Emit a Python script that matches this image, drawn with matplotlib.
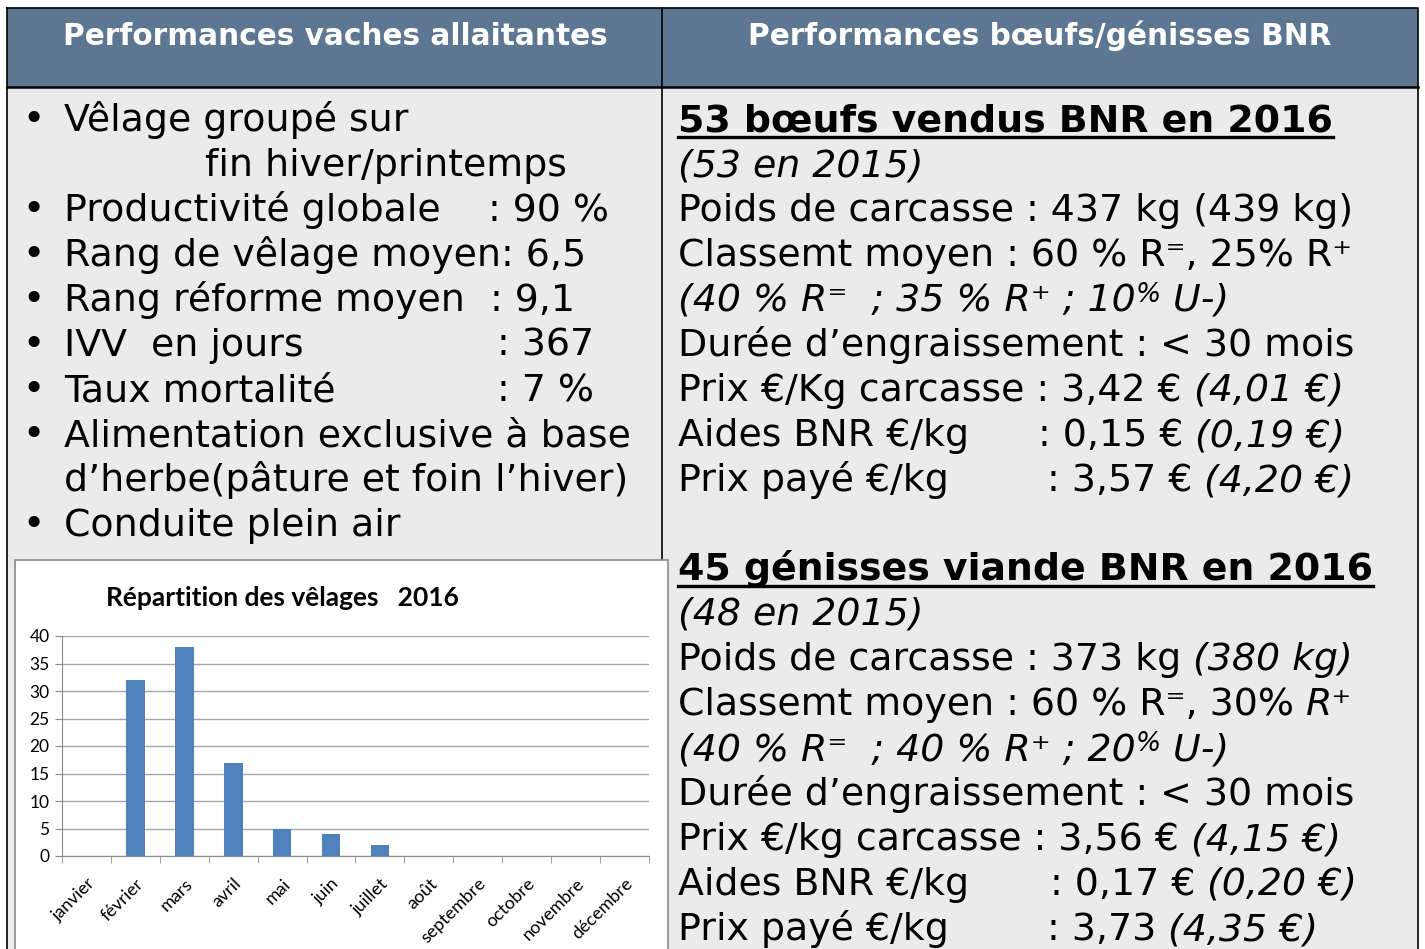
import numpy as np
import matplotlib.pyplot as plt
from matplotlib.patches import Rectangle

# données du graphique
mois = ['janvier', 'février', 'mars', 'avril', 'mai', 'juin', 'juillet',
        'août', 'septembre', 'octobre', 'novembre', 'décembre']
velages = [0, 32, 38, 17, 5, 4, 2, 0, 0, 0, 0, 0]
yticks = [0, 5, 10, 15, 20, 25, 30, 35, 40]

titre_gauche = 'Performances vaches allaitantes'
titre_droite = 'Performances bœufs/génisses BNR'

W, H = 1425, 949
BODY = 27.3
HEAD_BLUE = '#5d7692'
GREY_BG = '#ebebeb'

fig = plt.figure(figsize=(W / 100, H / 100), dpi=100)
ax = fig.add_axes([0, 0, 1, 1])
ax.set_xlim(0, W)
ax.set_ylim(H, 0)
ax.axis('off')
renderer = fig.canvas.get_renderer()

# cadres du tableau
ax.add_patch(Rectangle((7, 8), 1411, 79, facecolor=HEAD_BLUE, edgecolor='none'))
ax.add_patch(Rectangle((7, 87), 1411, 900, facecolor=GREY_BG, edgecolor='none'))
ax.plot([7, 1418, 1418, 7, 7], [8, 8, 960, 960, 8], color='black', lw=1.2)
ax.plot([7, 1418], [87, 87], color='black', lw=1.8)
ax.plot([662, 662], [8, 960], color='black', lw=1.2)

ax.text(335, 36, titre_gauche, color='white', fontsize=21.3, fontweight='bold',
        ha='center', va='center')
ax.text(1040, 36, titre_droite, color='white', fontsize=21.3, fontweight='bold',
        ha='center', va='center')


def runs(x, y, parts, size=BODY):
    # parts: (texte, style, décalage vertical, facteur de taille)
    for p in parts:
        txt, style = p[0], p[1]
        dy = p[2] if len(p) > 2 else 0
        f = p[3] if len(p) > 3 else 1.0
        t = ax.text(x, y + 13 + dy, txt, fontsize=size * f, ha='left',
                    va='baseline', fontstyle=style)
        x += t.get_window_extent(renderer).width
    return x


def titre(x, y, txt):
    t = ax.text(x, y + 13, txt, fontsize=BODY, fontweight='bold', ha='left',
                va='baseline')
    w = t.get_window_extent(renderer).width
    ax.plot([x, x + w], [y + 19, y + 19], color='black', lw=2.4)


N, I = 'normal', 'italic'

# colonne gauche
puces = [118, 208, 253, 298, 343, 388, 433, 523]
for y in puces:
    ax.text(22, y + 13, '•', fontsize=BODY, ha='left', va='baseline')
runs(64, 118, [('Vêlage groupé sur', N)])
runs(205, 163, [('fin hiver/printemps', N)])
runs(64, 208, [('Productivité globale', N)])
runs(488, 208, [(': 90 %', N)])
runs(64, 253, [('Rang de vêlage moyen: 6,5', N)])
runs(64, 298, [('Rang réforme moyen', N)])
runs(490, 298, [(': 9,1', N)])
runs(64, 343, [('IVV  en jours', N)])
runs(497, 343, [(': 367', N)])
runs(64, 388, [('Taux mortalité', N)])
runs(497, 388, [(': 7 %', N)])
runs(64, 433, [('Alimentation exclusive à base', N)])
runs(64, 478, [('d’herbe(pâture et foin l’hiver)', N)])
runs(64, 523, [('Conduite plein air', N)])

# colonne droite
X = 678
titre(X, 118, '53 bœufs vendus BNR en 2016')
runs(X, 163, [('(53 en 2015)', I)])
runs(X, 208, [('Poids de carcasse : 437 kg (439 kg)', N)])
runs(X, 253, [('Classemt moyen : 60 % R⁼, 25% R⁺', N)])
runs(X, 298, [('(40 % R⁼  ; 35 % R⁺ ; 10', I), ('%', I, -9, 0.7), (' U-)', I)])
runs(X, 343, [('Durée d’engraissement : < 30 mois', N)])
runs(X, 388, [('Prix €/Kg carcasse : 3,42 € ', N), ('(4,01 €)', I)])
runs(X, 433, [('Aides BNR €/kg', N)])
runs(1038, 433, [(': 0,15 € ', N), ('(0,19 €)', I)])
runs(X, 478, [('Prix payé €/kg', N)])
runs(1047, 478, [(': 3,57 € ', N), ('(4,20 €)', I)])

titre(X, 567, '45 génisses viande BNR en 2016')
runs(X, 612, [('(48 en 2015)', I)])
runs(X, 657, [('Poids de carcasse : 373 kg ', N), ('(380 kg)', I)])
runs(X, 702, [('Classemt moyen : 60 % R⁼, 30% ', N), ('R⁺', I)])
runs(X, 747, [('(40 % R⁼  ; 40 % R⁺ ; 20', I), ('%', I, -9, 0.7), (' U-)', I)])
runs(X, 792, [('Durée d’engraissement : < 30 mois', N)])
runs(X, 837, [('Prix €/kg carcasse : 3,56 € ', N), ('(4,15 €)', I)])
runs(X, 882, [('Aides BNR €/kg', N)])
runs(1050, 882, [(': 0,17 € ', N), ('(0,20 €)', I)])
runs(X, 927, [('Prix payé €/kg', N)])
runs(1047, 927, [(': 3,73 ', N), ('(4,35 €)', I)])

# graphique des vêlages
ax.add_patch(Rectangle((15, 560), 653, 420, facecolor='white',
                       edgecolor='#8a8a8a', lw=1.2, zorder=3))
ax.text(282, 598, 'Répartition des vêlages   2016', family='Lato',
        fontweight='bold', fontsize=19, ha='center', va='center', zorder=4)

cax = fig.add_axes([62 / W, 1 - 856 / H, 587 / W, 220 / H], zorder=5)
cax.patch.set_visible(False)
x = np.arange(len(mois))
cax.bar(x, velages, width=0.38, color='#4f81bd', zorder=3)
cax.set_xlim(-0.5, len(mois) - 0.5)
cax.set_ylim(0, 40)
cax.set_yticks(yticks)
cax.set_yticklabels([str(v) for v in yticks], family='Lato', fontsize=12.5)
cax.yaxis.grid(True, color='#a6a6a6', lw=1)
cax.set_axisbelow(True)
cax.set_xticks(x)
cax.set_xticklabels(mois, family='Lato', fontsize=13, rotation=45,
                    ha='right', rotation_mode='anchor')
cax.set_xticks(np.arange(-0.5, len(mois)), minor=True)
cax.tick_params(axis='x', which='major', length=0, pad=14)
cax.tick_params(axis='x', which='minor', length=5, color='#8a8a8a')
cax.tick_params(axis='y', length=5, color='#8a8a8a', pad=4)
for s in ['top', 'right']:
    cax.spines[s].set_visible(False)
cax.spines['left'].set_color('#8a8a8a')
cax.spines['bottom'].set_color('#8a8a8a')

fig.savefig('out.png', dpi=100)
